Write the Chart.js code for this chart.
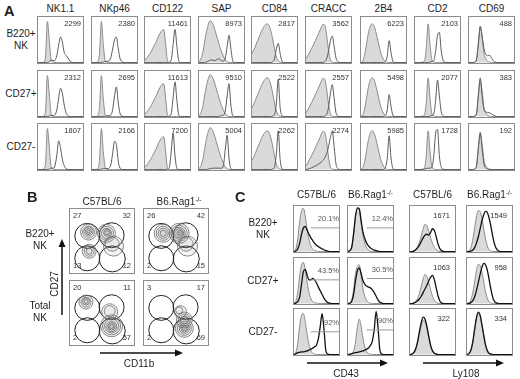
<!DOCTYPE html>
<html>
<head>
<meta charset="utf-8">
<script src="https://cdn.jsdelivr.net/npm/chart.js@4.4.1/dist/chart.umd.min.js"></script>
<style>
  html, body { margin: 0; padding: 0; background: #fff; }
  #fig { position: relative; width: 520px; height: 379px; overflow: hidden;
         font-family: "Liberation Sans", Arial, sans-serif; color: #1e1e1e; }
  .t { position: absolute; white-space: nowrap; line-height: 1; }
  .t sup { font-size: 0.65em; vertical-align: 0; position: relative; top: -0.45em; }
  .box { position: absolute; border: 1px solid #8c8c8c; box-sizing: border-box; background: #fff; }
  .box canvas { display: block; }
  svg.arr { position: absolute; left: 0; top: 0; }
</style>
</head>
<body>
<div id="fig"></div>
<script>
// ---------- Panel A: receptor histograms (isotype filled, stain open) ----------
const markersA = ['NK1.1', 'NKp46', 'CD122', 'SAP', 'CD84', 'CRACC', '2B4', 'CD2', 'CD69'];
const rowsA = [['B220+', 'NK'], ['CD27+'], ['CD27-']];
const mfiA = [
  [2299, 2380, 11461, 8973, 2817, 3562, 6223, 2103, 488],
  [2312, 2695, 11613, 9510, 2522, 2557, 5498, 2077, 383],
  [1807, 2166, 7200, 5004, 2262, 2274, 5985, 1728, 192]
];
// control staining, one curve per marker column (25 bins)
const isoA = [
  [0,0,0,1,12,90,50,6,1,0,0,0,0,0,0,0,0,0,0,0,0,0,0,0,0],
  [0,0,0,2,20,90,40,5,1,0,0,0,0,0,0,0,0,0,0,0,0,0,0,0,0],
  [6,10,16,22,30,38,46,56,64,70,72,40,3,0,0,0,0,0,0,0,0,0,0,0,0],
  [2,8,22,45,68,84,92,88,78,64,50,36,24,14,6,2,0,0,0,0,0,0,0,0,0],
  [20,28,38,48,58,68,76,82,85,82,70,52,30,12,4,1,0,0,0,0,0,0,0,0,0],
  [8,15,23,31,39,48,57,66,76,84,82,60,28,6,1,0,0,0,0,0,0,0,0,0,0],
  [0,4,18,42,66,80,85,80,66,48,30,16,7,2,0,0,0,0,0,0,0,0,0,0,0],
  [0,0,0,0,1,3,30,85,40,6,1,0,0,0,0,0,0,0,0,0,0,0,0,0,0],
  [0,0,0,1,8,45,78,55,20,8,3,1,0,0,0,0,0,0,0,0,0,0,0,0,0]
];
// specific staining per population (rows) and marker (columns)
const stainA = [
  [
    [0,0,0,0,0,0,2,6,4,5,15,38,56,45,22,16,10,3,1,0,0,0,0,0,0],
    [0,0,0,0,0,0,1,2,3,4,10,30,50,56,30,8,2,0,0,0,0,0,0,0,0],
    [0,0,0,0,0,0,0,0,0,0,0,0,0,1,6,40,73,35,4,0,0,0,0,0,0],
    [0,0,0,0,1,3,5,6,4,5,8,7,4,3,10,35,60,30,4,0,0,0,0,0,0],
    [0,0,0,0,0,0,0,0,0,0,0,2,8,30,42,20,3,0,0,0,0,0,0,0,0],
    [0,0,0,0,0,0,0,0,0,0,2,8,25,48,58,35,10,2,0,0,0,0,0,0,0],
    [0,0,0,0,0,0,0,0,0,0,0,0,0,2,14,48,22,3,0,0,0,0,0,0,0],
    [0,0,0,0,0,0,0,0,1,2,4,25,60,66,25,5,1,0,0,0,0,0,0,0,0],
    [0,0,0,1,6,40,80,58,30,18,15,16,10,4,1,0,0,0,0,0,0,0,0,0,0]
  ],
  [
    [0,0,0,0,0,0,1,2,2,4,14,40,62,50,25,8,2,0,0,0,0,0,0,0,0],
    [0,0,0,0,0,0,0,1,1,2,3,15,45,65,30,6,1,0,0,0,0,0,0,0,0],
    [0,0,0,0,0,0,0,0,0,0,0,0,0,1,6,42,76,35,4,0,0,0,0,0,0],
    [0,0,0,0,0,0,0,0,0,0,0,1,2,3,12,45,72,25,2,0,0,0,0,0,0],
    [0,0,0,0,0,0,0,0,0,0,0,1,4,30,82,20,2,0,0,0,0,0,0,0,0],
    [0,0,0,0,0,0,0,0,0,0,1,5,20,50,70,40,8,1,0,0,0,0,0,0,0],
    [0,0,0,0,0,0,0,0,0,0,0,0,0,2,15,48,22,3,0,0,0,0,0,0,0],
    [0,0,0,0,0,0,0,0,1,2,6,35,80,45,10,2,0,0,0,0,0,0,0,0,0],
    [0,0,0,1,6,48,85,45,15,10,9,8,6,3,1,0,0,0,0,0,0,0,0,0,0]
  ],
  [
    [0,0,0,0,0,0,1,3,3,8,30,63,48,22,8,2,0,0,0,0,0,0,0,0,0],
    [0,0,0,0,0,1,2,2,2,3,10,35,62,55,18,3,0,0,0,0,0,0,0,0,0],
    [0,0,0,0,0,0,0,0,0,0,0,0,1,5,40,80,30,3,0,0,0,0,0,0,0],
    [0,0,0,0,0,1,2,3,3,3,3,3,3,8,45,75,25,2,0,0,0,0,0,0,0],
    [0,0,0,0,0,0,0,0,0,0,0,1,5,35,85,22,2,0,0,0,0,0,0,0,0],
    [0,1,2,4,6,8,10,13,16,20,26,35,50,70,85,50,12,2,0,0,0,0,0,0,0],
    [0,0,0,0,0,0,0,0,0,0,0,0,0,4,25,74,25,3,0,0,0,0,0,0,0],
    [0,0,0,0,0,1,2,3,3,5,30,80,88,30,5,1,0,0,0,0,0,0,0,0,0],
    [0,0,0,1,8,50,82,45,12,3,1,0,0,0,0,0,0,0,0,0,0,0,0,0,0]
  ]
];

// ---------- Panel B: CD27 vs CD11b contour plots ----------
const strainsB = ['C57BL/6', 'B6.Rag1<sup>-/-</sup>'];
const rowsB = [['B220+', 'NK'], ['Total', 'NK']];
// quadrant frequencies: top-left, top-right, bottom-left, bottom-right
const quadB = [
  [[27, 32, 13, 12], [26, 42, 2, 15]],
  [[20, 11, 2, 57], [3, 17, 2, 69]]
];
// quadrant gates (x = CD11b, y = CD27, r = gate radius)
const gatesB = [
  { x: 27, y: 58, r: 12.5 }, { x: 65, y: 59, r: 12.5 },
  { x: 27, y: 23, r: 12.5 }, { x: 66, y: 22, r: 13 }
];
// density contour levels for each plot
const contoursB = [
  [
    [
      { x: 29, y: 64, r: 8 }, { x: 29, y: 64, r: 6 }, { x: 29, y: 65, r: 4.5 }, { x: 29, y: 65, r: 3 }, { x: 29, y: 65, r: 1.5 },
      { x: 57, y: 62, r: 9 }, { x: 57, y: 62, r: 7 }, { x: 57, y: 62, r: 5 }, { x: 58, y: 63, r: 3.5 }, { x: 58, y: 63, r: 2 },
      { x: 30, y: 34, r: 7 }, { x: 30, y: 34, r: 5 }, { x: 30, y: 34, r: 3 },
      { x: 68, y: 42, r: 10 }, { x: 66, y: 45, r: 7 }
    ],
    [
      { x: 30, y: 62, r: 9 }, { x: 30, y: 62, r: 7 }, { x: 30, y: 62, r: 5 }, { x: 30, y: 62, r: 3 },
      { x: 55, y: 62, r: 10 }, { x: 55, y: 62, r: 8 }, { x: 55, y: 62, r: 6 }, { x: 55, y: 62, r: 4.5 }, { x: 56, y: 62, r: 3 }, { x: 56, y: 62, r: 1.5 },
      { x: 68, y: 42, r: 10 }, { x: 66, y: 45, r: 7 }
    ]
  ],
  [
    [
      { x: 25, y: 67, r: 7 }, { x: 25, y: 67, r: 5 }, { x: 25, y: 68, r: 3.5 }, { x: 25, y: 68, r: 2 },
      { x: 65, y: 30, r: 11 }, { x: 65, y: 30, r: 9 }, { x: 65, y: 30, r: 7 }, { x: 65, y: 29, r: 5 }, { x: 65, y: 29, r: 3.5 }, { x: 65, y: 29, r: 2 },
      { x: 62, y: 52, r: 8 }, { x: 62, y: 53, r: 5.5 }
    ],
    [
      { x: 63, y: 26, r: 9 }, { x: 63, y: 26, r: 7 }, { x: 63, y: 26, r: 5 }, { x: 63, y: 26, r: 3.5 }, { x: 63, y: 26, r: 2 },
      { x: 63, y: 39, r: 8 }, { x: 63, y: 39, r: 6 }, { x: 63, y: 39, r: 4 },
      { x: 57, y: 52, r: 6 }, { x: 55, y: 54, r: 3.5 }
    ]
  ]
];

// ---------- Panel C: CD43 and Ly108 histograms ----------
const strainsC = ['C57BL/6', 'B6.Rag1<sup>-/-</sup>', 'C57BL/6', 'B6.Rag1<sup>-/-</sup>'];
const rowsC = [['B220+', 'NK'], ['CD27+'], ['CD27-']];
const pctC = [['20.1%', '12.4%'], ['43.5%', '30.5%'], ['92%', '90%']];
const mfiC = [[1671, 1549], [1063, 958], [322, 334]];
// CD43+ marker gate: start bin and level
const gateC = [[[9, 52], [10, 52]], [[9, 52], [10, 55]], [[9, 50], [10, 54]]];
const isoC = [
  [
    [0,6,28,65,90,95,78,48,26,12,5,2,1,0,0,0,0,0,0,0,0,0,0,0,0],
    [0,2,10,38,75,94,90,62,35,18,8,3,1,0,0,0,0,0,0,0,0,0,0,0,0],
    [0,0,1,4,10,20,34,50,60,56,44,30,18,9,4,1,0,0,0,0,0,0,0,0,0],
    [0,2,8,24,50,76,90,88,72,48,26,10,3,1,0,0,0,0,0,0,0,0,0,0,0]
  ],
  [
    [0,5,25,60,85,90,74,46,24,11,4,2,1,0,0,0,0,0,0,0,0,0,0,0,0],
    [0,1,8,32,66,82,85,60,32,15,6,2,1,0,0,0,0,0,0,0,0,0,0,0,0],
    [0,0,1,4,11,22,38,54,64,60,46,30,16,7,2,1,0,0,0,0,0,0,0,0,0],
    [0,2,8,22,46,72,86,84,68,45,24,10,3,1,0,0,0,0,0,0,0,0,0,0,0]
  ],
  [
    [0,5,25,62,86,90,72,44,22,9,3,1,0,0,0,0,0,0,0,0,0,0,0,0,0],
    [0,0,2,8,28,60,78,62,35,15,6,2,1,0,0,0,0,0,0,0,0,0,0,0,0],
    [0,1,3,10,25,45,64,75,72,58,38,20,8,3,1,0,0,0,0,0,0,0,0,0,0],
    [0,2,8,24,52,78,92,86,66,42,20,8,2,1,0,0,0,0,0,0,0,0,0,0,0]
  ]
];
const stainC = [
  [
    [0,1,6,18,38,52,55,47,38,30,24,18,14,11,8,6,4,2,1,0,0,0,0,0,0],
    [0,2,10,40,78,96,94,68,42,28,18,12,8,5,3,2,1,0,0,0,0,0,0,0,0],
    [0,0,1,4,8,14,22,30,36,38,36,42,50,46,32,16,6,2,0,0,0,0,0,0,0],
    [0,0,1,3,8,18,32,50,68,82,88,84,70,50,28,12,4,1,0,0,0,0,0,0,0]
  ],
  [
    [0,1,4,14,42,70,75,62,52,52,55,52,45,36,28,20,12,6,2,1,0,0,0,0,0],
    [0,1,5,20,50,72,78,66,50,42,38,36,34,30,24,16,8,3,1,0,0,0,0,0,0],
    [0,0,1,3,6,10,16,24,32,40,50,58,62,52,34,16,5,1,0,0,0,0,0,0,0],
    [0,0,2,6,14,28,46,64,80,88,84,70,48,26,10,3,1,0,0,0,0,0,0,0,0]
  ],
  [
    [0,2,4,5,6,6,7,8,10,12,14,17,21,35,62,90,55,8,1,0,0,0,0,0,0],
    [0,1,2,3,4,5,6,7,8,10,12,15,20,30,55,95,60,10,1,0,0,0,0,0,0],
    [0,1,4,12,28,50,70,82,78,62,40,20,8,3,1,0,0,0,0,0,0,0,0,0,0],
    [0,2,9,26,54,80,93,86,64,40,19,7,2,1,0,0,0,0,0,0,0,0,0,0,0]
  ]
];

// ---------- helpers ----------
const fig = document.getElementById('fig');

function txt(html, x, y, o = {}) {
  const d = document.createElement('div');
  d.className = 't';
  d.innerHTML = html;
  d.style.left = x + 'px';
  d.style.top = y + 'px';
  d.style.fontSize = (o.size || 10) + 'px';
  if (o.bold) d.style.fontWeight = 'bold';
  if (o.color) d.style.color = o.color;
  const a = o.align || 'center';
  let tf = a === 'center' ? 'translateX(-50%)' : a === 'right' ? 'translateX(-100%)' : '';
  if (o.rotate) tf = 'translate(-50%,-50%) rotate(-90deg)';
  d.style.transform = tf;
  fig.appendChild(d);
  return d;
}

function box(left, top, w, h) {
  const d = document.createElement('div');
  d.className = 'box';
  d.style.left = left + 'px';
  d.style.top = top + 'px';
  d.style.width = w + 'px';
  d.style.height = h + 'px';
  const c = document.createElement('canvas');
  c.width = w - 2;
  c.height = h - 2;
  d.appendChild(c);
  fig.appendChild(d);
  return c;
}

const pts = arr => arr.map((v, i) => ({ x: i, y: v }));

function baseOptions(xmax, ymin, ymax) {
  return {
    responsive: false, animation: false, events: [],
    layout: { padding: 0, autoPadding: false },
    plugins: { legend: { display: false }, tooltip: { enabled: false } },
    scales: {
      x: { type: 'linear', min: 0, max: xmax, display: false },
      y: { type: 'linear', min: ymin, max: ymax, display: false }
    },
    elements: { point: { radius: 0 }, line: { cubicInterpolationMode: 'monotone' } }
  };
}

function histogram(canvas, ctrl, stain, style, gate) {
  const ds = [];
  if (gate) {
    ds.push({ data: [{ x: gate[0], y: gate[1] }, { x: 24, y: gate[1] }],
              borderColor: '#9a9a9a', borderWidth: 1, fill: false, tension: 0,
              cubicInterpolationMode: 'default' });
  }
  ds.push({ data: pts(stain), fill: false, borderColor: style.line, borderWidth: style.lw });
  ds.push({ data: pts(ctrl), fill: 'origin', backgroundColor: '#dadada',
            borderColor: '#8a8a8a', borderWidth: 1 });
  new Chart(canvas, { type: 'line', data: { datasets: ds }, options: baseOptions(24, -1, 100) });
}

function arrow(x1, y1, x2, y2) {
  const ns = 'http://www.w3.org/2000/svg';
  const s = document.createElementNS(ns, 'svg');
  s.setAttribute('class', 'arr');
  s.setAttribute('width', 520);
  s.setAttribute('height', 379);
  const ang = Math.atan2(y2 - y1, x2 - x1);
  const hl = 8, hw = 3.5;
  const bx = x2 - hl * Math.cos(ang), by = y2 - hl * Math.sin(ang);
  const l = document.createElementNS(ns, 'line');
  l.setAttribute('x1', x1); l.setAttribute('y1', y1);
  l.setAttribute('x2', bx); l.setAttribute('y2', by);
  l.setAttribute('stroke', '#111'); l.setAttribute('stroke-width', 1.5);
  s.appendChild(l);
  const p = document.createElementNS(ns, 'polygon');
  const px = -Math.sin(ang) * hw, py = Math.cos(ang) * hw;
  p.setAttribute('points', `${x2},${y2} ${bx + px},${by + py} ${bx - px},${by - py}`);
  p.setAttribute('fill', '#111');
  s.appendChild(p);
  fig.appendChild(s);
}

// ---------- draw panel A ----------
const aLeft = [37, 91, 144, 198, 251, 305, 360, 414, 468];
const aTop = [16, 70, 123];
const aW = 47, aH = 48;
txt('A', 4, 4, { size: 14.5, bold: true, align: 'left' });
markersA.forEach((m, j) => txt(m, aLeft[j] + aW / 2, 4, { size: 10 }));
rowsA.forEach((lines, r) => {
  const cy = aTop[r] + aH / 2;
  const y0 = cy - (lines.length * 12) / 2 + 1;
  lines.forEach((s, k) => txt(s, 21, y0 + k * 12, { size: 10 }));
});
for (let r = 0; r < 3; r++) {
  for (let j = 0; j < markersA.length; j++) {
    const c = box(aLeft[j], aTop[r], aW, aH);
    histogram(c, isoA[j], stainA[r][j], { line: '#5a5a5a', lw: 1 });
    txt(String(mfiA[r][j]), aLeft[j] + aW - 3, aTop[r] + 4, { size: 7.5, align: 'right', color: '#333' });
  }
}

// ---------- draw panel B ----------
const bLeft = [69, 143];
const bTop = [208, 280];
const bW = 66, bH = 66;
txt('B', 27, 190, { size: 14.5, bold: true, align: 'left' });
strainsB.forEach((s, j) => txt(s, bLeft[j] + bW / 2 + (j ? 3 : 0), 197, { size: 10 }));
rowsB.forEach((lines, r) => {
  const cy = bTop[r] + bH / 2;
  lines.forEach((s, k) => txt(s, 40, cy - 12 + k * 12, { size: 10 }));
});
for (let r = 0; r < 2; r++) {
  for (let j = 0; j < 2; j++) {
    const c = box(bLeft[j], bTop[r], bW, bH);
    new Chart(c, {
      type: 'bubble',
      data: {
        datasets: [
          { data: contoursB[r][j], backgroundColor: 'rgba(150,150,150,0.10)', borderColor: '#6a6a6a', borderWidth: 0.8 },
          { data: gatesB, backgroundColor: 'rgba(0,0,0,0)', borderColor: '#222', borderWidth: 1 }
        ]
      },
      options: Object.assign(baseOptions(100, 0, 100), { clip: false })
    });
    const q = quadB[r][j];
    const L = bLeft[j], T = bTop[r];
    txt(String(q[0]), L + 4, T + 4, { size: 7.5, align: 'left', color: '#333' });
    txt(String(q[1]), L + bW - 4, T + 4, { size: 7.5, align: 'right', color: '#333' });
    txt(String(q[2]), L + 4, T + bH - 12, { size: 7.5, align: 'left', color: '#333' });
    txt(String(q[3]), L + bW - 4, T + bH - 12, { size: 7.5, align: 'right', color: '#333' });
  }
}
arrow(62, 315, 62, 239);
txt('CD27', 55, 284, { size: 10, rotate: true });
arrow(100, 353, 183, 353);
txt('CD11b', 139, 359, { size: 10 });

// ---------- draw panel C ----------
const cLeft = [293, 347, 409, 466];
const cTop = [205, 257, 308];
const cW = 47, cH = 48;
txt('C', 235, 190, { size: 14.5, bold: true, align: 'left' });
strainsC.forEach((s, j) => txt(s, cLeft[j] + cW / 2, 190, { size: 10 }));
rowsC.forEach((lines, r) => {
  const cy = cTop[r] + cH / 2;
  const y0 = cy - (lines.length * 12) / 2 + 1;
  lines.forEach((s, k) => txt(s, 263, y0 + k * 12, { size: 10 }));
});
for (let r = 0; r < 3; r++) {
  for (let j = 0; j < 4; j++) {
    const c = box(cLeft[j], cTop[r], cW, cH);
    const gate = j < 2 ? gateC[r][j] : null;
    histogram(c, isoC[r][j], stainC[r][j], { line: '#111', lw: 1.3 }, gate);
    if (j < 2) {
      const gy = cTop[r] + cH - 1 - (gate[1] / 101) * (cH - 2);
      txt(pctC[r][j], cLeft[j] + cW - 1, gy - 13, { size: 7.5, align: 'right', color: '#555' });
    } else {
      txt(String(mfiC[r][j - 2]), cLeft[j] + cW - 6, cTop[r] + 7, { size: 7.5, align: 'right', color: '#333' });
    }
  }
}
arrow(307, 363, 388, 363);
txt('CD43', 346, 369, { size: 10 });
arrow(423, 363, 504, 363);
txt('Ly108', 466, 369, { size: 10 });
</script>
</body>
</html>
